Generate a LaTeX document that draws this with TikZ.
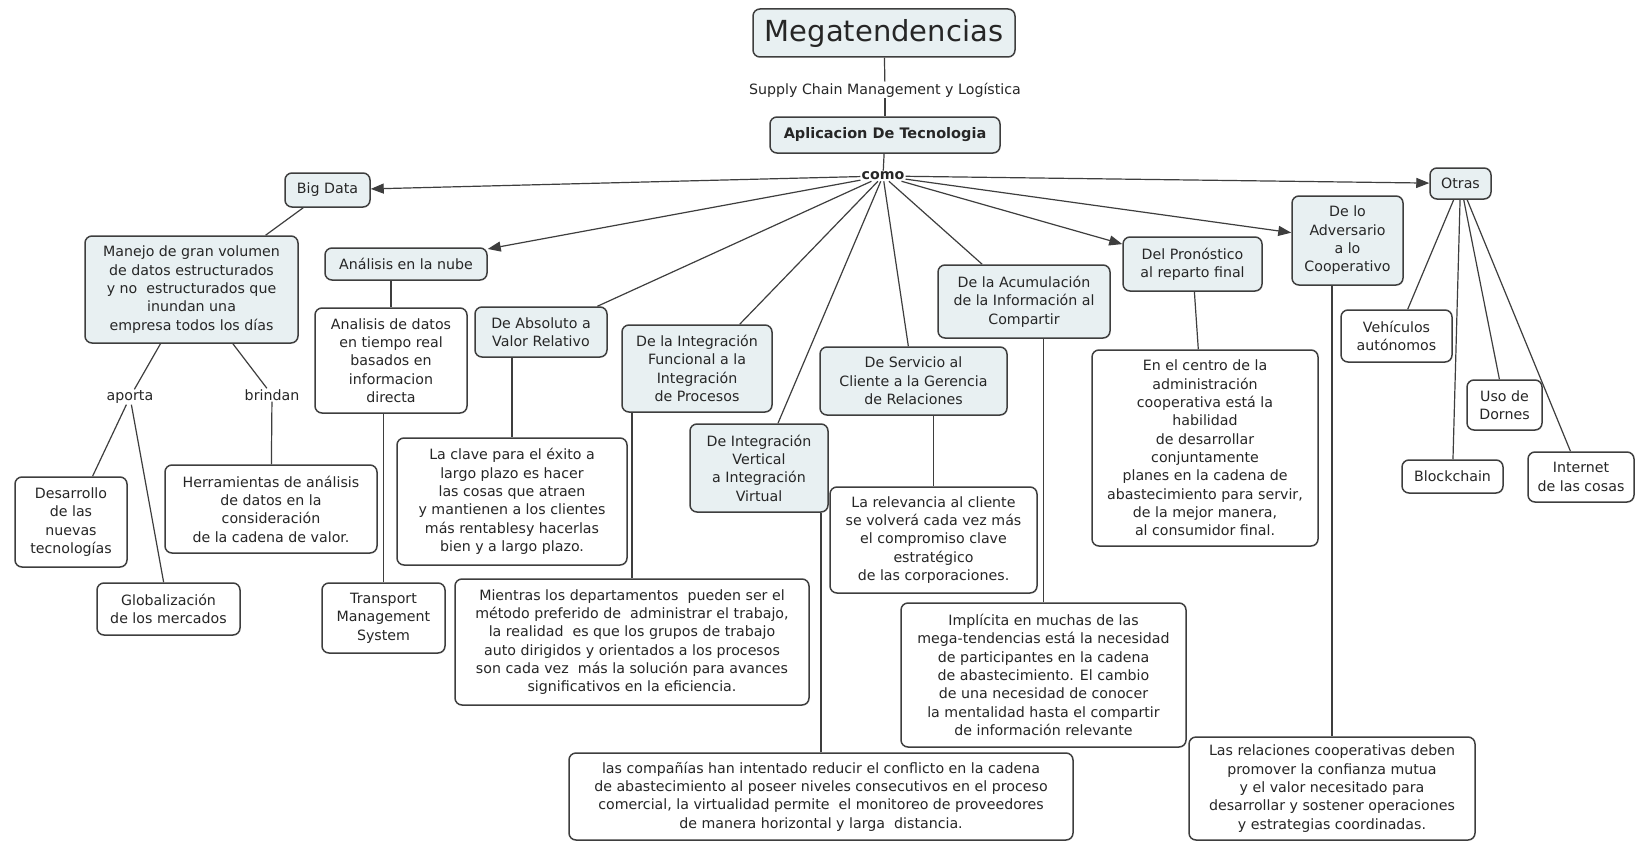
\documentclass[tikz,border=0pt]{standalone}
\usepackage{fontspec}
\setmainfont{DejaVu Sans}
\usetikzlibrary{arrows.meta,calc}
\definecolor{boxfill}{RGB}{232,240,242}
\definecolor{edge}{RGB}{62,62,62}
\definecolor{ink}{RGB}{38,38,38}

\begin{document}
\begin{tikzpicture}[x=1pt,y=-1pt,
  every node/.style={font=\fontsize{14.2}{18.3}\selectfont, text=ink, align=center, inner sep=2pt},
  concept/.style={draw=edge, line width=1.5pt, rounded corners=7pt, fill=boxfill},
  leaf/.style={draw=edge, line width=1.5pt, rounded corners=7pt, fill=white},
  tag/.style={inner sep=1pt},
  link/.style={draw=edge, line width=1.2pt},
  arr/.style={link, -{Triangle[length=13pt,width=10pt]}}
]
\fill[white] (0,0) rectangle (1640,843);
\useasboundingbox (0,0) rectangle (1640,843);

% --- top of the map
\node[concept, minimum width=262pt, minimum height=48pt, font=\fontsize{29}{32}\selectfont] (mega) at (884,33) {Megatendencias};
\node[tag] (sup) at (885,90) {Supply Chain Management y Logística};
\node[concept, minimum width=230pt, minimum height=36pt, font=\fontsize{14.5}{18}\selectfont\bfseries] (apl) at (885,135) {Aplicacion De Tecnologia};
\node[tag, font=\fontsize{14.2}{18}\selectfont\bfseries] (como) at (883,176) {como};

% --- Big Data branch
\node[concept, minimum width=85pt, minimum height=34pt] (bigdata) at (327.5,190) {Big Data};
\node[concept, minimum width=213pt, minimum height=107pt] (manejo) at (191.5,289.5) {Manejo de gran volumen\\de datos estructurados\\y no~ estructurados que\\inundan una\\empresa todos los días};
\node[tag] (aporta) at (130,397) {aporta};
\node[tag] (brindan) at (272,395) {brindan};
\node[leaf, minimum width=112pt, minimum height=90pt] (desarrollo) at (71,522) {Desarrollo\\de las\\nuevas\\tecnologías};
\node[leaf, minimum width=143pt, minimum height=52pt] (glob) at (168.5,609) {Globalización\\de los mercados};
\node[leaf, minimum width=212pt, minimum height=88pt] (herr) at (271,509) {Herramientas de análisis\\de datos en la\\consideración\\de la cadena de valor.};

% --- cloud analytics branch
\node[concept, minimum width=162pt, minimum height=32pt] (nube) at (406,264) {Análisis en la nube};
\node[leaf, minimum width=152pt, minimum height=105pt] (datos) at (391,360.5) {Analisis de datos\\en tiempo real\\basados en\\informacion\\directa};
\node[leaf, minimum width=123pt, minimum height=70pt] (tms) at (383.5,618) {Transport\\Management\\System};

% --- value branch
\node[concept, minimum width=132pt, minimum height=50pt] (absoluto) at (541,332) {De Absoluto a\\Valor Relativo};
\node[leaf, minimum width=230pt, minimum height=127pt] (clave) at (512,501.5) {La clave para el éxito a\\largo plazo es hacer\\las cosas que atraen\\y mantienen a los clientes\\más rentablesy hacerlas\\bien y a largo plazo.};

% --- process integration branch
\node[concept, minimum width=150pt, minimum height=87pt] (funcional) at (697,368.5) {De la Integración\\Funcional a la\\Integración\\de Procesos};
\node[leaf, minimum width=354pt, minimum height=126pt] (mientras) at (632,642) {Mientras los departamentos~ pueden ser el\\método preferido de~ administrar el trabajo,\\la realidad~ es que los grupos de trabajo\\auto dirigidos y orientados a los procesos\\son cada vez~ más la solución para avances\\significativos en la eficiencia.};

% --- virtual integration branch
\node[concept, minimum width=138pt, minimum height=88pt] (vertical) at (759,468) {De Integración\\Vertical\\a Integración\\Virtual};
\node[leaf, minimum width=504pt, minimum height=87pt] (companias) at (821,796.5) {las compañías han intentado reducir el conflicto en la cadena\\de abastecimiento al poseer niveles consecutivos en el proceso\\comercial, la virtualidad permite~ el monitoreo de proveedores\\de manera horizontal y larga~ distancia.};

% --- customer relations branch
\node[concept, minimum width=187pt, minimum height=68pt] (servicio) at (913.5,381) {De Servicio al\\Cliente a la Gerencia\\de Relaciones};
\node[leaf, minimum width=207pt, minimum height=106pt] (relevancia) at (933.5,540) {La relevancia al cliente\\se volverá cada vez más\\el compromiso clave\\estratégico\\de las corporaciones.};

% --- information sharing branch
\node[concept, minimum width=172pt, minimum height=73pt] (acumulacion) at (1024,301.5) {De la Acumulación\\de la Información al\\Compartir};
\node[leaf, minimum width=285pt, minimum height=144pt] (implicita) at (1043.5,675) {Implícita en muchas de las\\mega-tendencias está la necesidad\\de participantes en la cadena\\de abastecimiento. El cambio\\de una necesidad de conocer\\la mentalidad hasta el compartir\\de información relevante};

% --- forecast branch
\node[concept, minimum width=139pt, minimum height=54pt] (pronostico) at (1192.5,264) {Del Pronóstico\\al reparto final};
\node[leaf, minimum width=226pt, minimum height=196pt] (centro) at (1205,448) {En el centro de la\\administración\\cooperativa está la\\habilidad\\de desarrollar\\conjuntamente\\planes en la cadena de\\abastecimiento para servir,\\de la mejor manera,\\al consumidor final.};

% --- cooperation branch
\node[concept, minimum width=111pt, minimum height=89pt] (adversario) at (1347.5,240.5) {De lo\\Adversario\\a lo\\Cooperativo};
\node[leaf, minimum width=286pt, minimum height=103pt] (relaciones) at (1332,788.5) {Las relaciones cooperativas deben\\promover la confianza mutua\\y el valor necesitado para\\desarrollar y sostener operaciones\\y estrategias coordinadas.};

% --- other technologies
\node[concept, minimum width=61pt, minimum height=31pt] (otras) at (1460.5,183.5) {Otras};
\node[leaf, minimum width=111pt, minimum height=52pt] (vehiculos) at (1396.5,336) {Vehículos\\autónomos};
\node[leaf, minimum width=101pt, minimum height=33pt] (blockchain) at (1452.5,476.5) {Blockchain};
\node[leaf, minimum width=75pt, minimum height=50pt] (dornes) at (1504.5,405) {Uso de\\Dornes};
\node[leaf, minimum width=106pt, minimum height=50pt] (internet) at (1581,477) {Internet\\de las cosas};

% --- connectors of the trunk
\draw[link] (mega) -- (sup);
\draw[link] (sup) -- (apl);
\draw[link] (apl) -- (como);

% --- fan out from "como"
\draw[arr] (como) -- (bigdata);
\draw[arr] (como) -- (nube);
\draw[link] (como) -- (absoluto);
\draw[link] (como) -- (funcional);
\draw[link] (como) -- (vertical);
\draw[link] (como) -- (servicio);
\draw[link] (como) -- (acumulacion);
\draw[arr] (como) -- (pronostico);
\draw[arr] (como) -- (adversario);
\draw[arr] (como) -- (otras);

% --- branch connectors
\draw[link] (bigdata) -- (manejo);
\draw[link] (manejo) -- (aporta);
\draw[link] (aporta) -- (desarrollo);
\draw[link] (aporta) -- (glob);
\draw[link] (manejo) -- (brindan);
\draw[link] (brindan) -- (herr);
\draw[link] (nube.south -| datos.north) -- (datos.north);
\draw[link] (datos.south -| tms.north) -- (tms.north);
\draw[link] (absoluto.south -| clave.north) -- (clave.north);
\draw[link] (funcional.south -| mientras.north) -- (mientras.north);
\draw[link] (vertical.south -| companias.north) -- (companias.north);
\draw[link] (servicio.south -| relevancia.north) -- (relevancia.north);
\draw[link] (acumulacion.south -| implicita.north) -- (implicita.north);
\draw[link] (pronostico) -- (centro);
\draw[link] (adversario.south -| relaciones.north) -- (relaciones.north);
\draw[link] (otras) -- (vehiculos);
\draw[link] (otras) -- (blockchain);
\draw[link] (otras) -- (dornes);
\draw[link] (otras) -- (internet);
\end{tikzpicture}
\end{document}
